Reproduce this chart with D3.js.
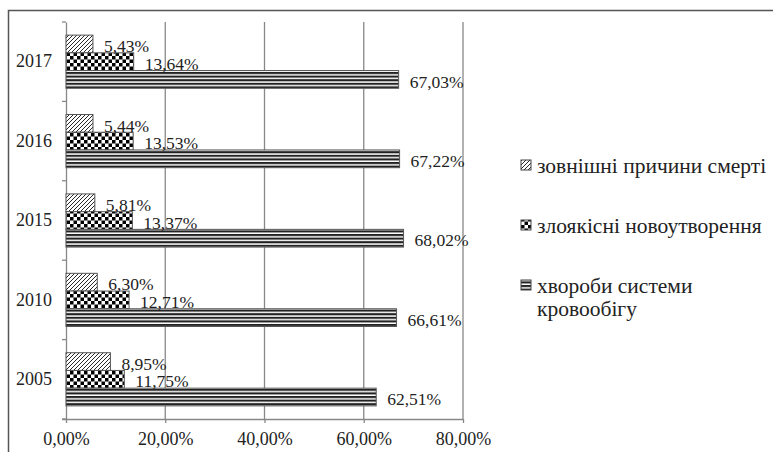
<!DOCTYPE html>
<html>
<head>
<meta charset="utf-8">
<script src="https://cdn.jsdelivr.net/npm/d3@7"></script>
<style>
  body { margin: 0; background: #fff; }
</style>
</head>
<body>
<div id="chart"></div>
<script>
// data
const years = ['2005', '2010', '2015', '2016', '2017'];
const seriesNames = ['зовнішні причини смерті', 'злоякісні новоутворення', 'хвороби системи кровообігу'];
const external = [8.95, 6.30, 5.81, 5.44, 5.43];
const cancer = [11.75, 12.71, 13.37, 13.53, 13.64];
const circulatory = [62.51, 66.61, 68.02, 67.22, 67.03];
const xTicks = [0, 20, 40, 60, 80];

const patternIds = ['hatch', 'checker', 'stripes'];
const seriesValues = [external, cancer, circulatory];

const FONT = 'Liberation Serif';
const fmt = v => v.toFixed(2).replace('.', ',') + '%';

const width = 773, height = 452;
const margin = {top: 22, left: 66, right: 310, bottom: 33};

const svg = d3.select('#chart').append('svg')
    .attr('width', width)
    .attr('height', height)
    .attr('font-family', FONT);

// patterns
const defs = svg.append('defs');

let p = defs.append('pattern').attr('id', 'hatch')
    .attr('patternUnits', 'userSpaceOnUse').attr('width', 4).attr('height', 4);
p.append('rect').attr('width', 4).attr('height', 4).attr('fill', '#fff');
p.append('path').attr('d', 'M-1,1 l2,-2 M0,4 l4,-4 M3,5 l2,-2')
    .attr('stroke', '#111').attr('stroke-width', 0.9);

p = defs.append('pattern').attr('id', 'checker')
    .attr('patternUnits', 'userSpaceOnUse').attr('width', 7).attr('height', 7);
p.append('rect').attr('width', 7).attr('height', 7).attr('fill', '#fff');
p.append('rect').attr('width', 3.5).attr('height', 3.5).attr('fill', '#000');
p.append('rect').attr('x', 3.5).attr('y', 3.5).attr('width', 3.5).attr('height', 3.5).attr('fill', '#000');

p = defs.append('pattern').attr('id', 'stripes')
    .attr('patternUnits', 'userSpaceOnUse').attr('width', 4).attr('height', 3.6);
p.append('rect').attr('width', 4).attr('height', 3.6).attr('fill', '#fff');
p.append('rect').attr('width', 4).attr('height', 2.1).attr('fill', '#222');

// outer frame (runs off the right and bottom edge)
svg.append('rect')
    .attr('x', 8.5).attr('y', 10.5)
    .attr('width', 900).attr('height', 600)
    .attr('fill', 'none').attr('stroke', '#555').attr('stroke-width', 1.5);

const x = d3.scaleLinear().domain([0, 80]).range([margin.left, 463]);
const y = d3.scaleBand().domain(years.slice().reverse()).range([margin.top, height - margin.bottom]);
const ySub = d3.scaleBand().domain(d3.range(3)).range([0, y.bandwidth()])
    .paddingInner(0).paddingOuter(0.74);

// gridlines
svg.append('g').selectAll('line')
    .data(xTicks.slice(1))
    .join('line')
    .attr('x1', d => x(d)).attr('x2', d => x(d))
    .attr('y1', margin.top).attr('y2', height - margin.bottom)
    .attr('stroke', '#888').attr('stroke-width', 1.3);

// x axis
const xAxisG = svg.append('g')
    .attr('transform', `translate(0,${height - margin.bottom})`)
    .call(d3.axisBottom(x).tickValues(xTicks).tickSize(4).tickSizeOuter(0).tickFormat(fmt).tickPadding(9));
xAxisG.attr('font-family', FONT).attr('font-size', 18);
xAxisG.select('.domain').attr('stroke', '#888').attr('stroke-width', 1.3).attr('d', `M${margin.left - 4},0.5H${x(80)}`);
xAxisG.selectAll('.tick line').attr('stroke', '#888').attr('stroke-width', 1.3);
xAxisG.selectAll('.tick text').attr('fill', '#222');

// y axis
const yAxisG = svg.append('g')
    .attr('transform', `translate(${margin.left},0)`)
    .call(d3.axisLeft(y).tickSize(0).tickPadding(14));
yAxisG.attr('font-family', FONT).attr('font-size', 18);
yAxisG.select('.domain').attr('stroke', '#888').attr('stroke-width', 1.3);
yAxisG.selectAll('.tick text').attr('fill', '#222');
// category separators
yAxisG.append('g').selectAll('line')
    .data(years.map(d => y(d)).concat([height - margin.bottom]))
    .join('line')
    .attr('x1', -4).attr('x2', 0)
    .attr('y1', d => d).attr('y2', d => d)
    .attr('stroke', '#888').attr('stroke-width', 1.3);

// bars
const rows = [];
years.forEach((yr, i) => {
    seriesValues.forEach((vals, s) => rows.push({year: yr, s: s, v: vals[i]}));
});

svg.append('g').selectAll('rect')
    .data(rows)
    .join('rect')
    .attr('x', x(0))
    .attr('y', d => y(d.year) + ySub(d.s))
    .attr('width', d => x(d.v) - x(0))
    .attr('height', ySub.bandwidth())
    .attr('fill', d => `url(#${patternIds[d.s]})`)
    .attr('stroke', '#555').attr('stroke-width', 1);

svg.append('g').selectAll('text')
    .data(rows)
    .join('text')
    .attr('x', d => x(d.v) + 11)
    .attr('y', d => y(d.year) + ySub(d.s) + ySub.bandwidth() / 2 + 2)
    .attr('dy', '0.35em')
    .attr('font-family', FONT)
    .attr('font-size', 17.5)
    .attr('fill', '#222')
    .text(d => fmt(d.v));

// legend
const legendLines = [['зовнішні причини смерті'], ['злоякісні новоутворення'], ['хвороби системи', 'кровообігу']];
const legend = svg.append('g').attr('transform', 'translate(521,0)');
const lg = legend.selectAll('g')
    .data(seriesNames)
    .join('g')
    .attr('transform', (d, i) => `translate(0,${165 + i * 60})`);
lg.append('rect')
    .attr('y', -5).attr('width', 10).attr('height', 10)
    .attr('fill', (d, i) => `url(#${patternIds[i]})`)
    .attr('stroke', '#444').attr('stroke-width', 1);
lg.append('text')
    .attr('x', 16)
    .attr('font-family', FONT)
    .attr('font-size', 21.5)
    .attr('fill', '#222')
    .selectAll('tspan')
    .data((d, i) => legendLines[i])
    .join('tspan')
    .attr('x', 16)
    .attr('dy', (d, j) => j === 0 ? '0.35em' : '1.1em')
    .text(d => d);
</script>
</body>
</html>
